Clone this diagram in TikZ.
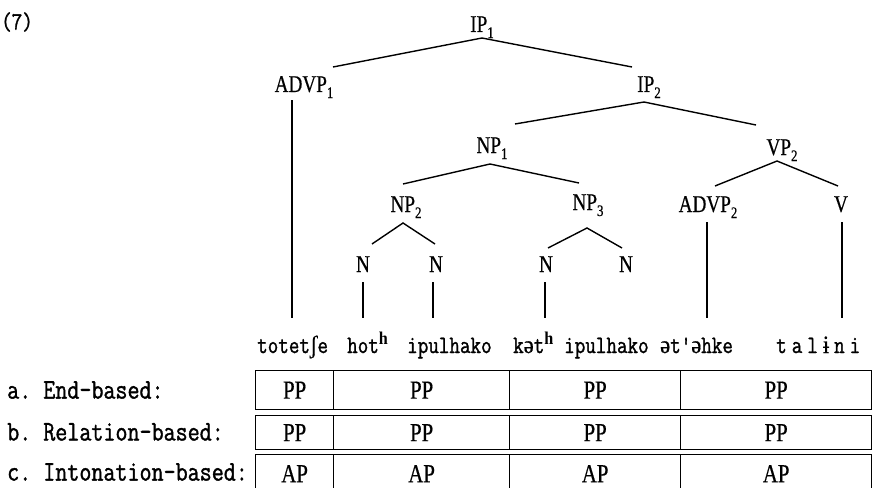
\documentclass[tikz,border=0pt]{standalone}
\usepackage{fontspec}
\setmainfont{Liberation Serif}
\setmonofont[FakeStretch=0.82,FakeBold=1.2]{Latin Modern Mono}
\newfontfamily\ipa[FakeStretch=0.9,FakeBold=0.6]{Liberation Serif}
\newfontfamily\aspfont[FakeStretch=0.9]{Liberation Serif Bold}
\newfontfamily\catfont[FakeStretch=0.8,FakeBold=0.5]{Liberation Serif}
\newcommand\catsub[1]{\raisebox{-6pt}{\fontsize{16}{16}\selectfont #1}}
\newcommand\asp{\raisebox{9pt}{\aspfont\fontsize{18}{18}\selectfont h}}
\newcommand\ip[1]{{\ipa #1}}
\newcommand\wide[1]{\def\wsep{\kern5pt}\wideloop#1\relax}
\def\wideloop#1{\ifx#1\relax\else#1\expandafter\wsep\expandafter\wideloop\fi}

\tikzset{
  cat/.style={font=\catfont\fontsize{24}{24}\selectfont, inner sep=0pt, anchor=base},
  branch/.style={line width=1.4pt},
  word/.style={font=\ttfamily\fontsize{25}{25}\selectfont, inner sep=0pt, anchor=base west},
  rowlab/.style={font=\ttfamily\fontsize{28.5}{28.5}\selectfont, inner sep=0pt, anchor=west},
  cell/.style={draw, line width=1.3pt, inner sep=0pt, anchor=north west,
               font=\catfont\fontsize{26}{26}\selectfont},
}

\begin{document}
\begin{tikzpicture}[x=1pt,y=-1pt]
\useasboundingbox (0,0) rectangle (872,487);

% example number
\node[word, anchor=west] (ex) at (1,22) {(7)};

% category labels
\node[cat] (IPa)   at (482,32)  {IP\catsub{1}};
\node[cat] (ADVPa) at (304,92)  {ADVP\catsub{1}};
\node[cat] (IPb)   at (649,92)  {IP\catsub{2}};
\node[cat] (NPa)   at (492,153) {NP\catsub{1}};
\node[cat] (VPb)   at (782,155) {VP\catsub{2}};
\node[cat] (NPb)   at (406,212) {NP\catsub{2}};
\node[cat] (NPc)   at (588,210) {NP\catsub{3}};
\node[cat] (ADVPb) at (708,212) {ADVP\catsub{2}};
\node[cat] (Vb)    at (841,212) {V};
\node[cat] (Na)    at (363,272) {N};
\node[cat] (Nb)    at (436,272) {N};
\node[cat] (Nc)    at (546,272) {N};
\node[cat] (Nd)    at (626,272) {N};

% branching points below the mothers and attachment points above the daughters
\coordinate (IPa-b)   at (482,38);
\coordinate (ADVPa-t) at (333,67);
\coordinate (IPb-t)   at (632,67);
\coordinate (IPb-b)   at (644,102);
\coordinate (NPa-t)   at (515,124);
\coordinate (VPb-t)   at (756,125);
\coordinate (NPa-b)   at (490,164);
\coordinate (NPb-t)   at (403,184);
\coordinate (NPc-t)   at (579,183);
\coordinate (VPb-b)   at (777,161);
\coordinate (ADVPb-t) at (715,186);
\coordinate (Vb-t)    at (838,186);
\coordinate (NPb-b)   at (403,223);
\coordinate (Na-t)    at (372,244);
\coordinate (Nb-t)    at (435,244);
\coordinate (NPc-b)   at (587,228);
\coordinate (Nc-t)    at (548,248);
\coordinate (Nd-t)    at (622,248);

\draw[branch] (ADVPa-t) -- (IPa-b) -- (IPb-t);
\draw[branch] (NPa-t) -- (IPb-b) -- (VPb-t);
\draw[branch] (NPb-t) -- (NPa-b) -- (NPc-t);
\draw[branch] (ADVPb-t) -- (VPb-b) -- (Vb-t);
\draw[branch] (Na-t) -- (NPb-b) -- (Nb-t);
\draw[branch] (Nc-t) -- (NPc-b) -- (Nd-t);

% words
\node[word] (w1) at (257,353) {totet\ip{ʃ}e};
\node[word] (w2) at (347,353) {hot\asp};
\node[word] (w3) at (407,353) {ipulhako};
\node[word] (w4) at (513,353) {k\ip{ə}t\asp};
\node[word] (w5) at (564,353) {ipulhako};
\node[word] (w6) at (660,353) {\ip{ə}t'\ip{ə}hke};
\node[word] (w7) at (776,353) {\wide{tal}\ip{ɨ}\kern5pt\wide{ni}};

% unary branches down to the words
\coordinate (ADVPa-b) at (292,100);
\coordinate (Na-b)    at (363,282);
\coordinate (Nb-b)    at (433,282);
\coordinate (Nc-b)    at (545,282);
\coordinate (ADVPb-b) at (707,222);
\coordinate (Vb-b)    at (842,222);
\coordinate (w1-t) at (292,318);
\coordinate (w2-t) at (363,318);
\coordinate (w3-t) at (433,318);
\coordinate (w4-t) at (545,318);
\coordinate (w6-t) at (707,318);
\coordinate (w7-t) at (842,318);
\draw[branch] (ADVPa-b) -- (w1-t);
\draw[branch] (Na-b) -- (w2-t);
\draw[branch] (Nb-b) -- (w3-t);
\draw[branch] (Nc-b) -- (w4-t);
\draw[branch] (ADVPb-b) -- (w6-t);
\draw[branch] (Vb-b) -- (w7-t);

% phrasing rows
\node[rowlab] (la) at (7,390) {a. End-based:};
\node[rowlab] (lb) at (7,432) {b. Relation-based:};
\node[rowlab] (lc) at (7,472) {c. Intonation-based:};

\foreach \r/\top/\h/\t in {a/370/39/PP, b/415/34/PP, c/454/38/AP}{
  \node[cell, minimum width=78pt,  minimum height=\h pt] (\r1) at (255,\top) {\t};
  \node[cell, minimum width=176pt, minimum height=\h pt] (\r2) at (333,\top) {\t};
  \node[cell, minimum width=171pt, minimum height=\h pt] (\r3) at (509,\top) {\t};
  \node[cell, minimum width=191pt, minimum height=\h pt] (\r4) at (680,\top) {\t};
}
\end{tikzpicture}
\end{document}
